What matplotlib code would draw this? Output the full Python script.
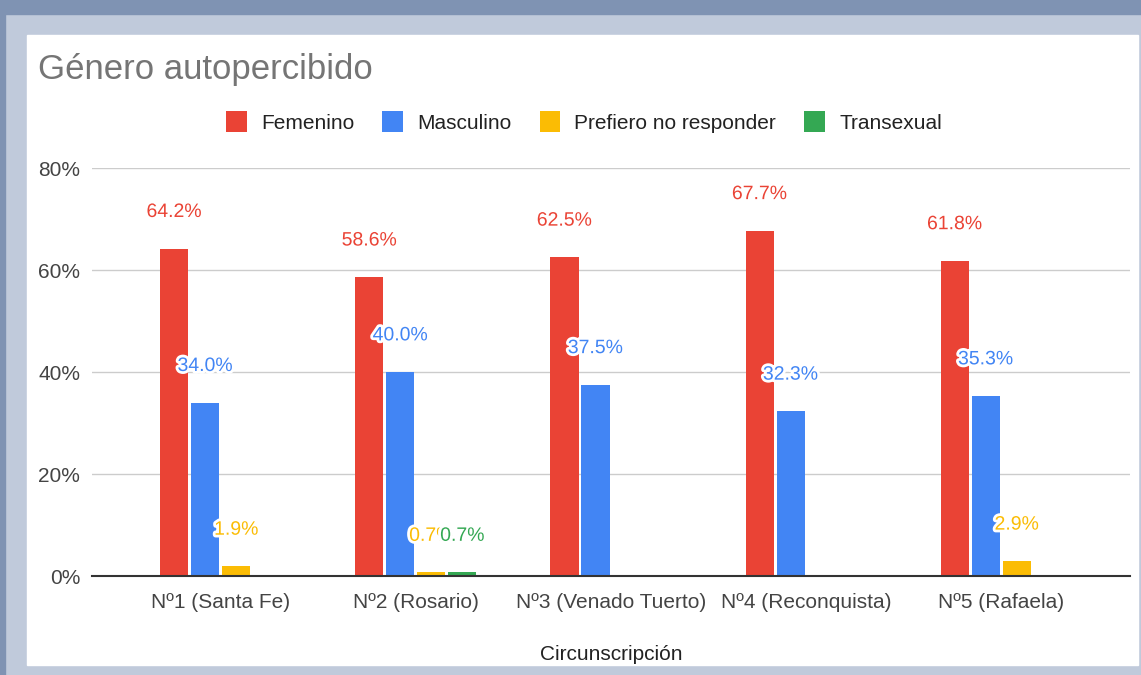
import numpy as np
import matplotlib
matplotlib.use("Agg")
from matplotlib import pyplot as plt
from matplotlib import patheffects
from matplotlib.patches import Rectangle

plt.rcParams['font.family'] = ['Liberation Sans', 'DejaVu Sans']

# data
categories = ["Nº1 (Santa Fe)", "Nº2 (Rosario)", "Nº3 (Venado Tuerto)",
              "Nº4 (Reconquista)", "Nº5 (Rafaela)"]
series_names = ["Femenino", "Masculino", "Prefiero no responder", "Transexual"]
femenino = [64.2, 58.6, 62.5, 67.7, 61.8]
masculino = [34.0, 40.0, 37.5, 32.3, 35.3]
prefiero = [1.9, 0.7, 0.0, 0.0, 2.9]
transexual = [0.0, 0.7, 0.0, 0.0, 0.0]
yticks = [0, 20, 40, 60, 80]

colors = ["#ea4335", "#4285f4", "#fbbc04", "#34a853"]
W, H = 1141, 675

fig = plt.figure(figsize=(W / 100, H / 100), dpi=100)
fig.patch.set_facecolor("#c0cadb")

# page frame behind the chart card
def px_rect(x0, y0, x1, y1, color):
    fig.patches.append(Rectangle((x0 / W, 1 - y1 / H), (x1 - x0) / W, (y1 - y0) / H,
                                 transform=fig.transFigure, color=color, zorder=-10))

px_rect(0, 0, W, 14, "#7f93b3")
px_rect(0, 0, 5, H, "#7f93b3")
px_rect(27, 35, 1138, 665, "white")

ax = fig.add_axes([92 / W, 1 - 576 / H, (1130 - 92) / W, (576 - 168) / H])
ax.set_facecolor("none")

x = np.arange(len(categories))
step, width = 0.159, 0.144
halo = [patheffects.withStroke(linewidth=4, foreground="white")]

for i, (name, vals) in enumerate(zip(series_names, [femenino, masculino, prefiero, transexual])):
    xs = x + (i - 1.5) * step
    vals = np.array(vals)
    ax.bar(xs, vals, width, color=colors[i], label=name, zorder=3)
    for xi, v in zip(xs, vals):
        if v > 0:
            ax.annotate(f"{v:.1f}%", xy=(xi, v), xytext=(0, 26), textcoords="offset points",
                        ha="center", va="center", color=colors[i], fontsize=14,
                        path_effects=halo, zorder=5)

ax.set_xlim(-0.66, 4.66)
ax.set_ylim(0, 80)
ax.set_yticks(yticks)
ax.set_yticklabels([f"{t}%" for t in yticks])
ax.set_xticks(x)
ax.set_xticklabels(categories)
ax.grid(axis="y", color="#cccccc", linewidth=1, zorder=0)
ax.tick_params(length=0, labelsize=15, labelcolor="#444444")
ax.tick_params(axis="x", pad=12)
ax.tick_params(axis="y", pad=8.5)
for s in ["top", "right", "left"]:
    ax.spines[s].set_visible(False)
ax.spines["bottom"].set_color("#333333")
ax.spines["bottom"].set_linewidth(1.5)
ax.spines["bottom"].set_zorder(4)

ax.set_xlabel("Circunscripción", fontsize=15, color="#222222", labelpad=24)

fig.text(38 / W, 1 - 69 / H, "Género autopercibido", fontsize=25, color="#757575",
         ha="left", va="center")

fig.legend(loc="center", bbox_to_anchor=(584 / W, 1 - 122 / H), ncol=4, frameon=False,
           fontsize=15, handlelength=1.0, handleheight=1.18, handletextpad=0.67,
           columnspacing=1.35, labelcolor="#222222")

fig.savefig("out.png", dpi=100)
